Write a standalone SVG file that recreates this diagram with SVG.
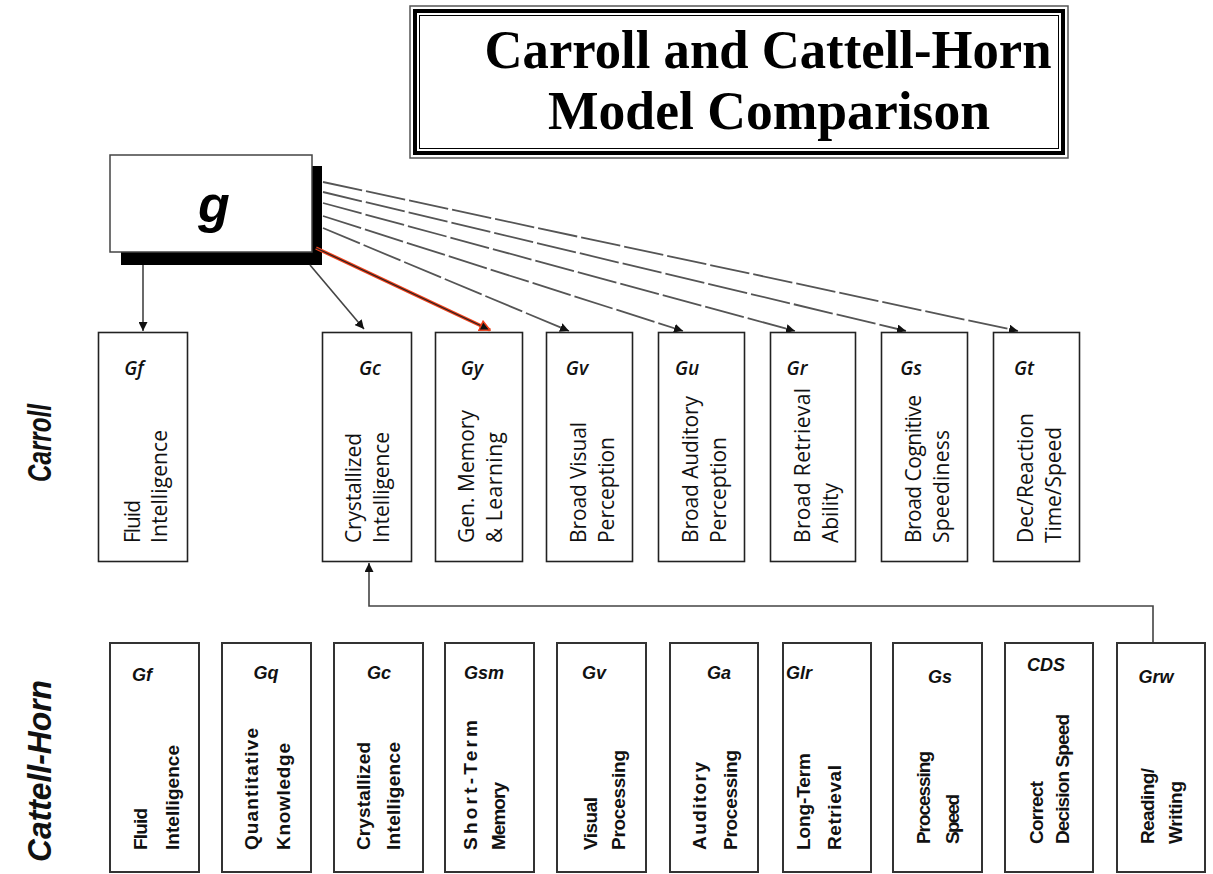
<svg xmlns="http://www.w3.org/2000/svg" width="1213" height="874" viewBox="0 0 1213 874">
<defs>
<style>
.box{fill:#fff;stroke:#222;stroke-width:1.6}
.box2{fill:#fff;stroke:#333;stroke-width:2}
.sym{font-family:"Open Sans","Liberation Sans",sans-serif;font-style:italic;font-weight:600;font-size:19px;fill:#111}
.lbl{font-family:"Open Sans","Liberation Sans",sans-serif;font-size:21px;fill:#111}
.sym2{font-family:"Liberation Sans",sans-serif;font-style:italic;font-weight:bold;font-size:18px;fill:#111}
.lbl2{font-family:"Liberation Sans",sans-serif;font-weight:bold;font-size:19px;fill:#111}
.side{font-family:"Liberation Sans",sans-serif;font-style:italic;font-weight:bold;font-size:33px;fill:#111}
.title{font-family:"Liberation Serif",serif;font-weight:bold;font-size:54px;fill:#000}
.conn{fill:none;stroke:#444;stroke-width:1.6}
.dash{stroke:#555;stroke-width:1.8;stroke-dasharray:40 4}
</style>
<marker id="ah" viewBox="0 0 10 10" refX="10" refY="5" markerWidth="9" markerHeight="9" markerUnits="userSpaceOnUse" orient="auto"><path d="M0,0 L10,5 L0,10 z" fill="#111"/></marker>
<marker id="ahr" viewBox="0 0 12 12" refX="11" refY="6" markerWidth="12" markerHeight="12" markerUnits="userSpaceOnUse" orient="auto"><path d="M1,1 L11,6 L1,11 z" fill="#111" stroke="#f0401a" stroke-width="1.5"/></marker>
</defs>
<rect width="1213" height="874" fill="#fff"/>

<g id="title">
<rect x="410" y="6" width="658" height="152" fill="#fff" stroke="#555" stroke-width="1.5"/>
<rect x="415" y="11" width="648" height="142" fill="none" stroke="#000" stroke-width="4"/>
<rect x="419.5" y="15.5" width="639" height="133" fill="none" stroke="#000" stroke-width="1"/>
<text class="title" x="768" y="68" text-anchor="middle" textLength="567" lengthAdjust="spacingAndGlyphs">Carroll and Cattell-Horn</text>
<text class="title" x="769" y="129" text-anchor="middle" textLength="442" lengthAdjust="spacingAndGlyphs">Model Comparison</text>
</g>

<g id="g-node">
<rect x="121" y="166" width="201" height="99" fill="#000"/>
<rect x="110" y="155" width="202" height="97" fill="#fff" stroke="#444" stroke-width="1.5"/>
<text x="214" y="222" text-anchor="middle" font-family="Liberation Sans, sans-serif" font-style="italic" font-weight="bold" font-size="52">g</text>
</g>

<g id="side-labels">
<text class="side" transform="translate(51,482) rotate(-90)" textLength="78" lengthAdjust="spacingAndGlyphs">Carroll</text>
<text class="side" transform="translate(51,862) rotate(-90)" textLength="182" lengthAdjust="spacingAndGlyphs">Cattell-Horn</text>
</g>

<g id="connectors">
<line class="conn" x1="143" y1="265" x2="143" y2="331" marker-end="url(#ah)"/>
<line class="conn" x1="310" y1="265" x2="364" y2="329" marker-end="url(#ah)"/>
<line x1="316" y1="248" x2="490" y2="330" stroke="#f0401a" stroke-width="3.5"/>
<line x1="316" y1="248" x2="490" y2="330" stroke="#222" stroke-width="1.2" marker-end="url(#ahr)"/>
<line class="conn dash" x1="323" y1="228" x2="569" y2="331" marker-end="url(#ah)"/>
<line class="conn dash" x1="323" y1="216" x2="683" y2="331" marker-end="url(#ah)"/>
<line class="conn dash" x1="323" y1="203" x2="795" y2="331" marker-end="url(#ah)"/>
<line class="conn dash" x1="323" y1="192" x2="906" y2="331" marker-end="url(#ah)"/>
<line class="conn dash" x1="323" y1="182" x2="1018" y2="331" marker-end="url(#ah)"/>
<polyline class="conn" points="1153,642 1153,606 369,606 369,563" marker-end="url(#ah)"/>
</g>

<g id="carroll-Gf">
<rect class="box" x="98.5" y="332.5" width="89" height="229"/>
<text class="sym" x="134" y="375" text-anchor="middle">Gf</text>
<text class="lbl" transform="translate(140,543) rotate(-90)" textLength="43" lengthAdjust="spacing">Fluid</text>
<text class="lbl" transform="translate(167,543) rotate(-90)" textLength="113" lengthAdjust="spacing">Intelligence</text>
</g>
<g id="carroll-Gc">
<rect class="box" x="322.5" y="332.5" width="89" height="229"/>
<text class="sym" x="370" y="375" text-anchor="middle">Gc</text>
<text class="lbl" transform="translate(361,543) rotate(-90)" textLength="110" lengthAdjust="spacing">Crystallized</text>
<text class="lbl" transform="translate(389,543) rotate(-90)" textLength="111" lengthAdjust="spacing">Intelligence</text>
</g>
<g id="carroll-Gy">
<rect class="box" x="435.5" y="332.5" width="87" height="229"/>
<text class="sym" x="472" y="375" text-anchor="middle">Gy</text>
<text class="lbl" transform="translate(474,543) rotate(-90)" textLength="133" lengthAdjust="spacing">Gen. Memory</text>
<text class="lbl" transform="translate(502,543) rotate(-90)" textLength="111" lengthAdjust="spacing">&amp; Learning</text>
</g>
<g id="carroll-Gv">
<rect class="box" x="546.5" y="332.5" width="86" height="229"/>
<text class="sym" x="577" y="375" text-anchor="middle">Gv</text>
<text class="lbl" transform="translate(586,543) rotate(-90)" textLength="121" lengthAdjust="spacing">Broad Visual</text>
<text class="lbl" transform="translate(614,543) rotate(-90)" textLength="106" lengthAdjust="spacing">Perception</text>
</g>
<g id="carroll-Gu">
<rect class="box" x="658.5" y="332.5" width="86" height="229"/>
<text class="sym" x="687" y="375" text-anchor="middle">Gu</text>
<text class="lbl" transform="translate(698,543) rotate(-90)" textLength="147" lengthAdjust="spacing">Broad Auditory</text>
<text class="lbl" transform="translate(726,543) rotate(-90)" textLength="106" lengthAdjust="spacing">Perception</text>
</g>
<g id="carroll-Gr">
<rect class="box" x="770.5" y="332.5" width="85" height="229"/>
<text class="sym" x="797" y="375" text-anchor="middle">Gr</text>
<text class="lbl" transform="translate(810,543) rotate(-90)" textLength="155" lengthAdjust="spacing">Broad Retrieval</text>
<text class="lbl" transform="translate(838,543) rotate(-90)" textLength="60" lengthAdjust="spacing">Ability</text>
</g>
<g id="carroll-Gs">
<rect class="box" x="881.5" y="332.5" width="86" height="229"/>
<text class="sym" x="911" y="375" text-anchor="middle">Gs</text>
<text class="lbl" transform="translate(921,543) rotate(-90)" textLength="148" lengthAdjust="spacing">Broad Cognitive</text>
<text class="lbl" transform="translate(949,543) rotate(-90)" textLength="113" lengthAdjust="spacing">Speediness</text>
</g>
<g id="carroll-Gt">
<rect class="box" x="993.5" y="332.5" width="86" height="229"/>
<text class="sym" x="1024" y="375" text-anchor="middle">Gt</text>
<text class="lbl" transform="translate(1033,543) rotate(-90)" textLength="130" lengthAdjust="spacing">Dec/Reaction</text>
<text class="lbl" transform="translate(1061,543) rotate(-90)" textLength="116" lengthAdjust="spacing">Time/Speed</text>
</g>

<g id="ch-Gf">
<rect class="box2" x="110" y="643" width="89" height="229"/>
<text class="sym2" x="142" y="681" text-anchor="middle">Gf</text>
<text class="lbl2" transform="translate(147,850) rotate(-90)" textLength="42" lengthAdjust="spacing">Fluid</text>
<text class="lbl2" transform="translate(179,850) rotate(-90)" textLength="105" lengthAdjust="spacing">Intelligence</text>
</g>
<g id="ch-Gq">
<rect class="box2" x="222" y="643" width="89" height="229"/>
<text class="sym2" x="266" y="679" text-anchor="middle">Gq</text>
<text class="lbl2" transform="translate(258,850) rotate(-90)" textLength="122" lengthAdjust="spacing">Quantitative</text>
<text class="lbl2" transform="translate(290,850) rotate(-90)" textLength="107" lengthAdjust="spacing">Knowledge</text>
</g>
<g id="ch-Gc">
<rect class="box2" x="334" y="643" width="89" height="229"/>
<text class="sym2" x="379" y="679" text-anchor="middle">Gc</text>
<text class="lbl2" transform="translate(370,850) rotate(-90)" textLength="108" lengthAdjust="spacing">Crystallized</text>
<text class="lbl2" transform="translate(400,850) rotate(-90)" textLength="108" lengthAdjust="spacing">Intelligence</text>
</g>
<g id="ch-Gsm">
<rect class="box2" x="445" y="643" width="89" height="229"/>
<text class="sym2" x="484" y="679" text-anchor="middle">Gsm</text>
<text class="lbl2" transform="translate(477,850) rotate(-90)" textLength="130" lengthAdjust="spacing">Short-Term</text>
<text class="lbl2" transform="translate(505,850) rotate(-90)" textLength="68" lengthAdjust="spacing">Memory</text>
</g>
<g id="ch-Gv">
<rect class="box2" x="557" y="643" width="89" height="229"/>
<text class="sym2" x="594" y="679" text-anchor="middle">Gv</text>
<text class="lbl2" transform="translate(597,850) rotate(-90)" textLength="53" lengthAdjust="spacing">Visual</text>
<text class="lbl2" transform="translate(625,850) rotate(-90)" textLength="100" lengthAdjust="spacing">Processing</text>
</g>
<g id="ch-Ga">
<rect class="box2" x="670" y="643" width="88" height="229"/>
<text class="sym2" x="719" y="679" text-anchor="middle">Ga</text>
<text class="lbl2" transform="translate(706,850) rotate(-90)" textLength="88" lengthAdjust="spacing">Auditory</text>
<text class="lbl2" transform="translate(737,850) rotate(-90)" textLength="100" lengthAdjust="spacing">Processing</text>
</g>
<g id="ch-Glr">
<rect class="box2" x="783" y="643" width="88" height="229"/>
<text class="sym2" x="799" y="679" text-anchor="middle">Glr</text>
<text class="lbl2" transform="translate(810,850) rotate(-90)" textLength="97" lengthAdjust="spacing">Long-Term</text>
<text class="lbl2" transform="translate(841,850) rotate(-90)" textLength="85" lengthAdjust="spacing">Retrieval</text>
</g>
<g id="ch-Gs">
<rect class="box2" x="893" y="643" width="89" height="229"/>
<text class="sym2" x="940" y="683" text-anchor="middle">Gs</text>
<text class="lbl2" transform="translate(930,844) rotate(-90)" textLength="93" lengthAdjust="spacing">Processing</text>
<text class="lbl2" transform="translate(959,844) rotate(-90)" textLength="50" lengthAdjust="spacing">Speed</text>
</g>
<g id="ch-CDS">
<rect class="box2" x="1005" y="643" width="88" height="229"/>
<text class="sym2" x="1046" y="671" text-anchor="middle">CDS</text>
<text class="lbl2" transform="translate(1043,844) rotate(-90)" textLength="63" lengthAdjust="spacing">Correct</text>
<text class="lbl2" transform="translate(1069,844) rotate(-90)" textLength="130" lengthAdjust="spacing">Decision Speed</text>
</g>
<g id="ch-Grw">
<rect class="box2" x="1117" y="643" width="88" height="229"/>
<text class="sym2" x="1156" y="683" text-anchor="middle">Grw</text>
<text class="lbl2" transform="translate(1154,844) rotate(-90)" textLength="76" lengthAdjust="spacing">Reading/</text>
<text class="lbl2" transform="translate(1182,844) rotate(-90)" textLength="63" lengthAdjust="spacing">Writing</text>
</g>
</svg>
